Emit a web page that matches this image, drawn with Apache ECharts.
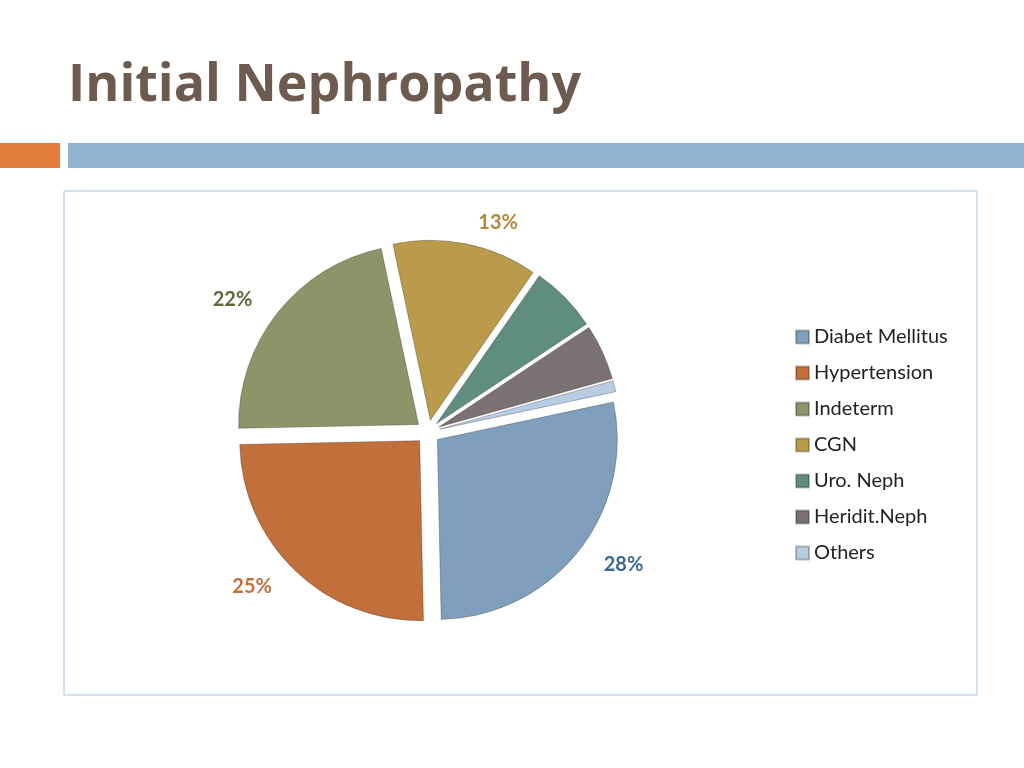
<!DOCTYPE html>
<html>
<head>
<meta charset="utf-8">
<script src="https://cdn.jsdelivr.net/npm/echarts@6/dist/echarts.min.js"></script>
<style>html,body{margin:0;padding:0;background:#fff}#chart{width:1024px;height:768px}</style>
</head>
<body>
<div id="chart"></div>
<script>
// data
var categories = ['Diabet Mellitus', 'Hypertension', 'Indeterm', 'CGN', 'Uro. Neph', 'Heridit.Neph', 'Others'];
var values = [28, 25, 22, 13, 6, 5, 1];
var colors = ['#7f9fbd', '#c1703b', '#8c9468', '#b99b4b', '#5f8d7f', '#7a7272', '#b8cce2'];
var labelColors = ['#3e6a92', '#c1703b', '#5c6a3a', '#b08a3a', null, null, null];

var pieData = [];
for (var i = 0; i < categories.length; ++i) {
    pieData.push({
        name: categories[i],
        value: values[i],
        selected: true,
        itemStyle: {color: colors[i]},
        label: labelColors[i] ? {show: true, color: labelColors[i]} : {show: false},
        labelLine: {show: false}
    });
}

var option = {
    animation: false,
    graphic: [
        {type: 'text', left: 68, top: 60, style: {text: 'Initial Nephropathy', font: 'bold 52px "Open Sans"', fill: '#6e5b4f'}},
        {type: 'rect', shape: {x: 0, y: 143, width: 60, height: 25}, style: {fill: '#e07b3c'}},
        {type: 'rect', shape: {x: 68, y: 143, width: 956, height: 25}, style: {fill: '#93b4d3'}},
        {type: 'rect', shape: {x: 64, y: 191, width: 913, height: 504}, style: {fill: 'none', stroke: '#a9c4dc', lineWidth: 1}}
    ],
    legend: {
        orient: 'vertical',
        left: 790,
        top: 322,
        itemWidth: 13,
        itemHeight: 13,
        itemGap: 16,
        icon: 'rect',
        textStyle: {fontSize: 20, color: '#222', fontFamily: 'Lato'},
        data: categories
    },
    series: [{
        type: 'pie',
        center: [428, 432],
        radius: [0, 180],
        startAngle: 12,
        selectedMode: 'multiple',
        selectedOffset: 12,
        label: {position: 'outside', formatter: '{d}%', fontSize: 20, fontWeight: 'bold', fontFamily: 'Lato', distanceToLabelLine: 0},
        labelLine: {length: 22, length2: 8},
        itemStyle: {borderColor: 'rgba(0,0,0,0.25)', borderWidth: 1},
        emphasis: {disabled: true},
        data: pieData
    }]
};
var myChart = echarts.init(document.getElementById('chart'));
myChart.setOption(option);
</script>
</body>
</html>
